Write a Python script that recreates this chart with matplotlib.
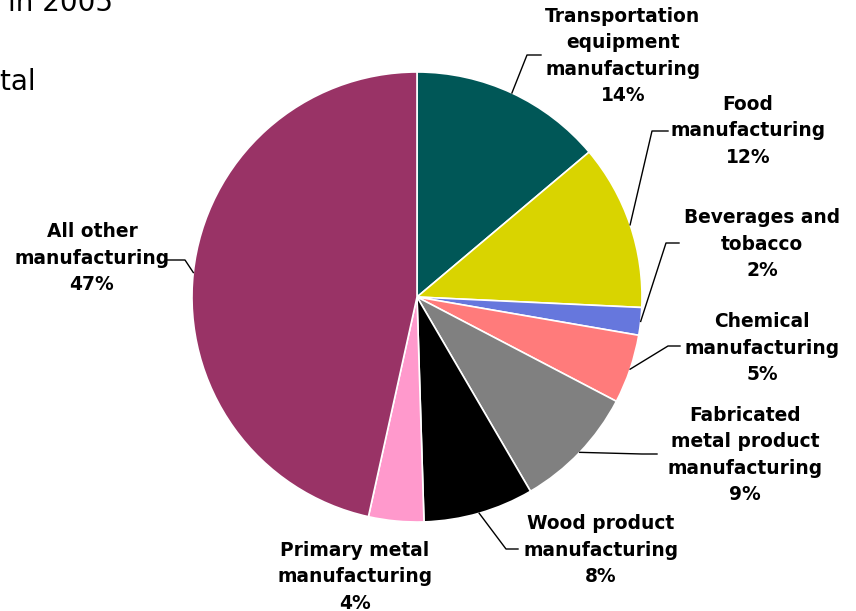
import matplotlib
matplotlib.use("Agg")
import matplotlib.pyplot as plt
import numpy as np

# Manufacturing employment shares by industry, 2005
industries = [
    "Transportation\nequipment\nmanufacturing",
    "Food\nmanufacturing",
    "Beverages and\ntobacco",
    "Chemical\nmanufacturing",
    "Fabricated\nmetal product\nmanufacturing",
    "Wood product\nmanufacturing",
    "Primary metal\nmanufacturing",
    "All other\nmanufacturing",
]
shares = [14, 12, 2, 5, 9, 8, 4, 47]
colors = ["#005757", "#D9D400", "#6677DD", "#FF7B7B",
          "#808080", "#000000", "#FF99CC", "#993366"]

# canvas size in pixels; layout below is given in pixels from the top-left
W, H = 856, 611
CX, CY, R = 417, 297, 225

# label layout: text centre, leader elbow, leader end (None = no leader)
text_pos = [(623, 56), (748, 131), (762, 244), (762, 348),
            (745, 455), (601, 550), (355, 577), (92, 258)]
elbows = [(527, 55), (652, 131), (666, 243), (668, 346),
          (642, 454), (506, 549), None, (185, 260)]
ends = [(541, 55), (668, 131), (679, 243), (680, 346),
        (657, 454), (518, 549), None, (167, 260)]


def px(x, y):
    return x, H - y


fig = plt.figure(figsize=(W / 100, H / 100), dpi=100)
ax = fig.add_axes([0, 0, 1, 1])

wedges, _ = ax.pie(shares, colors=colors, startangle=90, counterclock=False,
                   center=px(CX, CY), radius=R,
                   wedgeprops=dict(edgecolor="white", linewidth=1.2))
ax.set_xlim(0, W)
ax.set_ylim(0, H)
ax.set_aspect("equal")
ax.axis("off")

for w, name, share, tp, el, en in zip(wedges, industries, shares,
                                      text_pos, elbows, ends):
    if el is not None:
        mid = np.deg2rad((w.theta1 + w.theta2) / 2)
        ax_x = CX + R * np.cos(mid)
        ax_y = CY - R * np.sin(mid)
        xs = [ax_x, el[0], en[0]]
        ys = [H - ax_y, H - el[1], H - en[1]]
        ax.plot(xs, ys, color="black", linewidth=1)
    ax.text(*px(*tp), f"{name}\n{share}%", ha="center", va="center",
            multialignment="center", fontsize=13.4, fontweight="bold",
            family="DejaVu Sans", linespacing=1.47, color="black")

# slide title text running off the edges
ax.text(*px(8, 11), "in 2005", fontsize=20, family="DejaVu Sans",
        ha="left", va="baseline", clip_on=False)
ax.text(*px(36, 90), "Total", fontsize=20, family="DejaVu Sans",
        ha="right", va="baseline", clip_on=False)

fig.savefig("out.png", dpi=100)
